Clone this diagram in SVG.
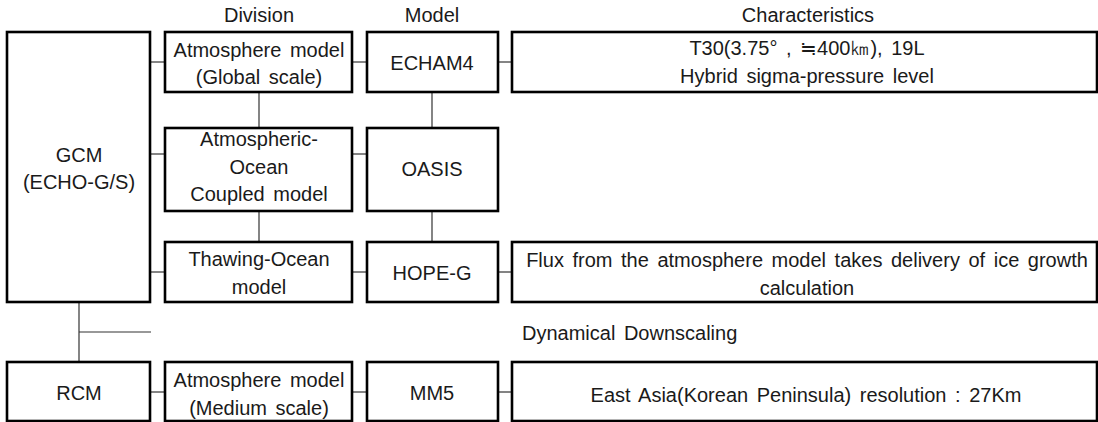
<svg xmlns="http://www.w3.org/2000/svg" width="1098" height="422" viewBox="0 0 1098 422">
<style>
.box{fill:#fff;stroke:#000;stroke-width:2.6}
.ln{stroke:#333;stroke-width:1.2;fill:none}
text{font-family:"Liberation Sans",Arial,sans-serif;font-size:20px;fill:#1a1a1a;text-anchor:middle;word-spacing:3px}
.st{text-anchor:start}
</style>
<rect width="1098" height="422" fill="#fff"/>
<g id="connectors">
<line class="ln" x1="150" y1="62" x2="165" y2="62"/>
<line class="ln" x1="352" y1="62" x2="367" y2="62"/>
<line class="ln" x1="498" y1="62" x2="512" y2="62"/>
<line class="ln" x1="150" y1="154" x2="165" y2="154"/>
<line class="ln" x1="352" y1="154" x2="367" y2="154"/>
<line class="ln" x1="150" y1="272" x2="165" y2="272"/>
<line class="ln" x1="352" y1="272" x2="367" y2="272"/>
<line class="ln" x1="498" y1="272" x2="512" y2="272"/>
<line class="ln" x1="150" y1="392" x2="165" y2="392"/>
<line class="ln" x1="352" y1="392" x2="367" y2="392"/>
<line class="ln" x1="498" y1="392" x2="512" y2="392"/>
<line class="ln" x1="259" y1="92" x2="259" y2="128"/>
<line class="ln" x1="259" y1="211" x2="259" y2="242"/>
<line class="ln" x1="432" y1="92" x2="432" y2="128"/>
<line class="ln" x1="432" y1="211" x2="432" y2="242"/>
<line class="ln" x1="79" y1="302" x2="79" y2="362"/>
<line class="ln" x1="79" y1="332" x2="151" y2="332"/>
</g>
<g id="headers">
<text x="259" y="22">Division</text>
<text x="432" y="22">Model</text>
<text x="808" y="22">Characteristics</text>
</g>
<g id="gcm">
<rect class="box" x="7" y="32" width="143" height="270"/>
<text x="79" y="162">GCM</text>
<text x="79" y="189">(ECHO-G/S)</text>
</g>
<g id="atm-global">
<rect class="box" x="165" y="32" width="187" height="60"/>
<text x="259" y="57">Atmosphere model</text>
<text x="259" y="84">(Global scale)</text>
</g>
<g id="echam4">
<rect class="box" x="367" y="32" width="131" height="60"/>
<text x="432" y="70">ECHAM4</text>
</g>
<g id="char-echam">
<rect class="box" x="512" y="32" width="585" height="60"/>
<text x="807" y="55">T30(3.75° , ≒400㎞), 19L</text>
<text x="807" y="83">Hybrid sigma-pressure level</text>
</g>
<g id="coupled">
<rect class="box" x="165" y="128" width="187" height="83"/>
<text x="259" y="146">Atmospheric-</text>
<text x="259" y="174">Ocean</text>
<text x="259" y="201">Coupled model</text>
</g>
<g id="oasis">
<rect class="box" x="367" y="128" width="131" height="83"/>
<text x="432" y="176">OASIS</text>
</g>
<g id="thawing">
<rect class="box" x="165" y="242" width="187" height="60"/>
<text x="259" y="266">Thawing-Ocean</text>
<text x="259" y="294">model</text>
</g>
<g id="hope">
<rect class="box" x="367" y="242" width="131" height="60"/>
<text x="432" y="280">HOPE-G</text>
</g>
<g id="char-hope">
<rect class="box" x="512" y="242" width="585" height="60"/>
<text x="807" y="267">Flux from the atmosphere model takes delivery of ice growth</text>
<text x="807" y="295">calculation</text>
</g>
<g id="downscaling">
<text class="st" x="522" y="340">Dynamical Downscaling</text>
</g>
<g id="rcm">
<rect class="box" x="7" y="362" width="143" height="59"/>
<text x="79" y="400">RCM</text>
</g>
<g id="atm-medium">
<rect class="box" x="165" y="362" width="187" height="59"/>
<text x="259" y="387">Atmosphere model</text>
<text x="259" y="415">(Medium scale)</text>
</g>
<g id="mm5">
<rect class="box" x="367" y="362" width="131" height="59"/>
<text x="432" y="400">MM5</text>
</g>
<g id="char-mm5">
<rect class="box" x="512" y="362" width="585" height="59"/>
<text x="806" y="402">East Asia(Korean Peninsula) resolution : 27Km</text>
</g>
</svg>
